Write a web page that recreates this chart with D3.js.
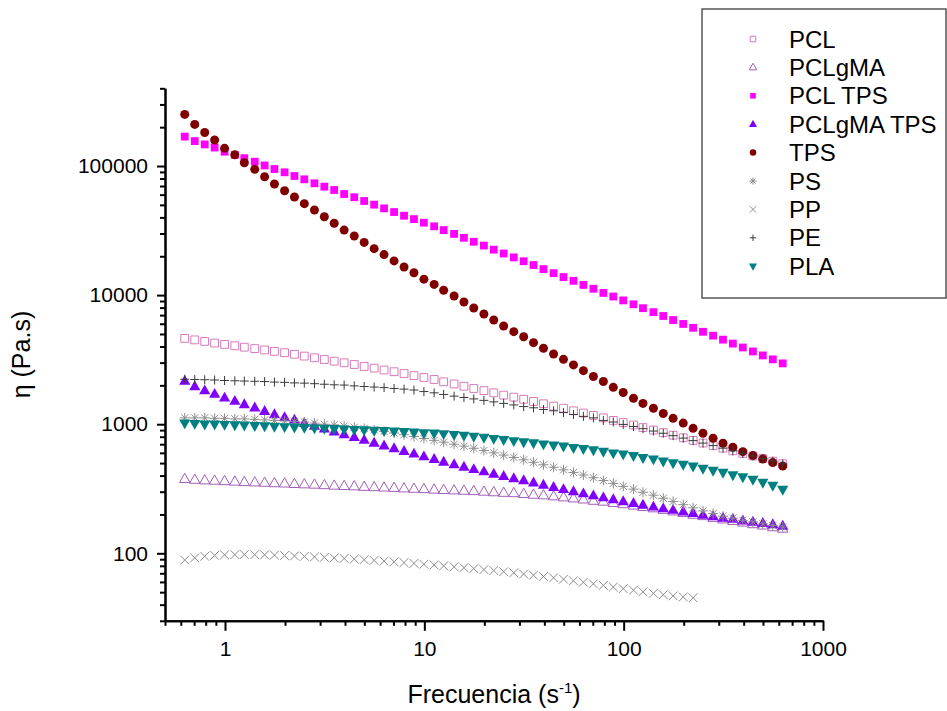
<!DOCTYPE html>
<html>
<head>
<meta charset="utf-8">
<script src="https://cdn.jsdelivr.net/npm/d3@7"></script>
<style>
  body { margin: 0; background: #fff; }
  svg { display: block; font-family: Arial, "Liberation Sans", sans-serif; }
</style>
</head>
<body>
<svg id="chart"></svg>
<script>
// frequency (s^-1), 20 points per decade
const freq = [0.628, 0.705, 0.791, 0.887, 0.995, 1.12, 1.25, 1.41, 1.58, 1.77,
  1.99, 2.23, 2.50, 2.81, 3.15, 3.53, 3.96, 4.45, 4.99, 5.60,
  6.28, 7.05, 7.91, 8.87, 9.95, 11.2, 12.5, 14.1, 15.8, 17.7,
  19.9, 22.3, 25.0, 28.1, 31.5, 35.3, 39.6, 44.5, 49.9, 56.0,
  62.8, 70.5, 79.1, 88.7, 99.5, 112, 125, 141, 158, 177,
  199, 223, 250, 281, 315, 353, 396, 445, 499, 560, 628];

// viscosity (Pa.s)
const pcl = [4620, 4500, 4380, 4250, 4150, 4050, 3950, 3850, 3760, 3670,
  3580, 3480, 3370, 3270, 3170, 3080, 2990, 2900, 2800, 2720,
  2630, 2550, 2470, 2380, 2300, 2220, 2130, 2050, 1970, 1890,
  1820, 1750, 1680, 1620, 1560, 1500, 1440, 1380, 1330, 1270,
  1220, 1170, 1120, 1070, 1030, 986, 942, 901, 860, 822,
  785, 749, 715, 682, 652, 622, 594, 567, 542, 517, 494];
const pclgma = [376, 371, 367, 365, 362, 359, 356, 354, 352, 349,
  347, 344, 342, 340, 337, 334, 332, 330, 327, 325,
  323, 321, 318, 316, 314, 311, 309, 307, 305, 303,
  300, 297, 294, 292, 288, 284, 281, 276, 271, 266,
  261, 255, 251, 245, 240, 234, 228, 223, 217, 211,
  205, 199, 194, 188, 183, 178, 173, 168, 164, 159, 155];
const pclTps = [169000, 156000, 147000, 139000, 129000, 122000, 115000, 108000, 101000, 94800,
  89400, 83700, 78900, 73500, 69200, 65200, 60700, 57300, 53600, 50200,
  47000, 44000, 41200, 38800, 36400, 34100, 31900, 29800, 27800, 25900,
  24200, 22500, 21000, 19600, 18300, 17100, 15900, 14800, 13800, 12900,
  12000, 11200, 10400, 9750, 9100, 8490, 7920, 7380, 6890, 6410,
  5980, 5580, 5200, 4850, 4520, 4210, 3930, 3660, 3410, 3180, 2960];
const pclgmaTps = [2160, 1960, 1820, 1710, 1600, 1510, 1420, 1340, 1260, 1190,
  1130, 1080, 1020, 970, 921, 875, 832, 792, 754, 716,
  681, 649, 618, 589, 561, 535, 509, 488, 466, 447,
  429, 411, 395, 380, 366, 352, 338, 325, 313, 301,
  290, 280, 270, 261, 252, 244, 237, 229, 222, 216,
  210, 204, 198, 193, 188, 184, 179, 175, 171, 167, 163];
const tps = [251000, 210000, 182000, 159000, 137000, 122000, 106000, 94300, 82600, 72600,
  64400, 57500, 51100, 45600, 40500, 36000, 31900, 28700, 25600, 22900,
  20600, 18400, 16500, 14900, 13300, 12100, 10900, 9840, 8850, 7950,
  7140, 6420, 5770, 5210, 4760, 4280, 3880, 3500, 3180, 2880,
  2600, 2340, 2140, 1930, 1760, 1590, 1450, 1330, 1210, 1110,
  1020, 929, 851, 778, 712, 663, 613, 571, 538, 504, 475];
const ps = [1120, 1120, 1120, 1110, 1110, 1100, 1100, 1090, 1080, 1070,
  1060, 1050, 1040, 1020, 1000, 988, 968, 948, 926, 903,
  880, 855, 829, 803, 776, 750, 726, 700, 676, 651,
  626, 600, 576, 553, 530, 507, 485, 464, 443, 423,
  404, 385, 366, 348, 330, 314, 297, 282, 267, 252,
  238, 225, 213, 203, 194, 187, 180, 175, 169, 164, 160];
const pp = [88.7, 92.2, 94.8, 96.4, 97.2, 97.7, 97.9, 97.7, 97.3, 96.8,
  96.1, 95.4, 94.6, 93.8, 93.0, 92.1, 91.2, 90.2, 89.2, 88.1,
  87.0, 85.9, 84.7, 83.5, 82.3, 81.2, 79.9, 78.6, 77.3, 76.1,
  74.8, 73.5, 72.0, 70.6, 69.1, 67.7, 66.1, 64.6, 63.0, 61.3,
  59.7, 58.0, 56.4, 54.8, 53.2, 51.8, 50.3, 49.0, 47.8, 46.8,
  45.9, 45.2];
const pe = [2230, 2220, 2210, 2200, 2180, 2170, 2160, 2150, 2140, 2120,
  2110, 2090, 2080, 2060, 2040, 2020, 2010, 1980, 1960, 1940,
  1920, 1890, 1870, 1840, 1790, 1750, 1700, 1650, 1610, 1570,
  1530, 1490, 1450, 1410, 1370, 1340, 1300, 1270, 1230, 1190,
  1150, 1120, 1070, 1040, 996, 960, 923, 885, 851, 815,
  780, 746, 714, 683, 652, 622, 594, 567, 542, 517, 494];
const pla = [1020, 1010, 1000, 998, 993, 986, 980, 973, 968, 961,
  954, 948, 941, 935, 928, 921, 915, 908, 902, 895,
  889, 881, 873, 865, 857, 850, 841, 830, 817, 803,
  789, 773, 757, 743, 728, 715, 701, 687, 674, 656,
  645, 631, 615, 597, 586, 569, 549, 536, 517, 501,
  488, 472, 454, 438, 423, 404, 390, 373, 353, 335, 312];

const seriesNames = ["PCL", "PCLgMA", "PCL TPS", "PCLgMA TPS", "TPS", "PS", "PP", "PE", "PLA"];
const seriesValues = [pcl, pclgma, pclTps, pclgmaTps, tps, ps, pp, pe, pla];
const xTicksMajor = [1, 10, 100, 1000];
const yTicksMajor = [100, 1000, 10000, 100000];

// marker shapes, size = half width in px
const shapes = {
  square: { draw(c, r) { c.moveTo(-r, -r); c.lineTo(r, -r); c.lineTo(r, r); c.lineTo(-r, r); c.closePath(); } },
  triUp: { draw(c, r) { c.moveTo(0, -r); c.lineTo(0.9 * r, 0.6 * r); c.lineTo(-0.9 * r, 0.6 * r); c.closePath(); } },
  triDown: { draw(c, r) { c.moveTo(0, r); c.lineTo(0.9 * r, -0.6 * r); c.lineTo(-0.9 * r, -0.6 * r); c.closePath(); } },
  circle: { draw(c, r) { c.moveTo(r, 0); c.arc(0, 0, r, 0, 2 * Math.PI); } },
  star: { draw(c, r) {
    c.moveTo(-r, 0); c.lineTo(r, 0);
    c.moveTo(0, -r); c.lineTo(0, r);
    const d = r * 0.72;
    c.moveTo(-d, -d); c.lineTo(d, d);
    c.moveTo(-d, d); c.lineTo(d, -d);
  } },
  times: { draw(c, r) { c.moveTo(-r, -r); c.lineTo(r, r); c.moveTo(-r, r); c.lineTo(r, -r); } },
  plus: { draw(c, r) { c.moveTo(-r, 0); c.lineTo(r, 0); c.moveTo(0, -r); c.lineTo(0, r); } }
};

const styles = [
  { shape: "square", r: 3.9, fill: "none", stroke: "#d67ab9" },
  { shape: "triUp", r: 5.8, fill: "none", stroke: "#a25fb8" },
  { shape: "square", r: 3.9, fill: "#ff00ff", stroke: "none" },
  { shape: "triUp", r: 6.2, fill: "#8000ff", stroke: "none" },
  { shape: "circle", r: 4.5, fill: "#800000", stroke: "none" },
  { shape: "star", r: 5, fill: "none", stroke: "#8c8c8c" },
  { shape: "times", r: 4.4, fill: "none", stroke: "#8c8c8c" },
  { shape: "plus", r: 4.5, fill: "none", stroke: "#3a3a3a" },
  { shape: "triDown", r: 6.2, fill: "#008080", stroke: "none" }
];

const W = 947, H = 711;
const svg = d3.select("#chart").attr("width", W).attr("height", H);
svg.append("rect").attr("width", W).attr("height", H).attr("fill", "#fff");

const x = d3.scaleLog().domain([0.5, 1000]).range([165, 823]);
const y = d3.scaleLog().domain([30, 400000]).range([620.8, 88.3]);
const x0 = x.range()[0], yBottom = y.range()[0];

// axes
const xMinor = x.ticks().filter(d => !xTicksMajor.includes(d));
const yMinor = y.ticks().filter(d => !yTicksMajor.includes(d));

function styleAxis(g, w) {
  g.select(".domain").attr("stroke", "#000").attr("stroke-width", 2);
  g.selectAll(".tick line").attr("stroke", "#000").attr("stroke-width", w);
  g.selectAll(".tick text").attr("fill", "#000").style("font-size", "21px")
    .style("font-family", "Arial, 'Liberation Sans', sans-serif");
}

svg.append("g").attr("transform", `translate(0,${yBottom})`)
  .call(d3.axisBottom(x).tickValues(xMinor).tickSize(5).tickSizeOuter(0).tickFormat(""))
  .call(g => styleAxis(g, 2));
svg.append("g").attr("transform", `translate(0,${yBottom})`)
  .call(d3.axisBottom(x).tickValues(xTicksMajor).tickSize(10).tickSizeOuter(0)
    .tickPadding(10).tickFormat(d3.format("d")))
  .call(g => styleAxis(g, 2));

svg.append("g").attr("transform", `translate(${x0},0)`)
  .call(d3.axisLeft(y).tickValues(yMinor).tickSize(5).tickSizeOuter(0).tickFormat(""))
  .call(g => styleAxis(g, 2));
svg.append("g").attr("transform", `translate(${x0},0)`)
  .call(d3.axisLeft(y).tickValues(yTicksMajor).tickSize(8).tickSizeOuter(0)
    .tickPadding(9).tickFormat(d3.format("d")))
  .call(g => styleAxis(g, 2));

// axis titles
const xTitle = svg.append("text")
  .attr("x", (x.range()[0] + x.range()[1]) / 2).attr("y", 703)
  .attr("text-anchor", "middle").style("font-size", "25px").attr("fill", "#000");
xTitle.append("tspan").text("Frecuencia (s");
xTitle.append("tspan").attr("dy", -10).style("font-size", "15px").text("-1");
xTitle.append("tspan").attr("dy", 10).text(")");

svg.append("text")
  .attr("transform", `translate(30,${(y.range()[0] + y.range()[1]) / 2}) rotate(-90)`)
  .attr("text-anchor", "middle").style("font-size", "25px").attr("fill", "#000")
  .text("η (Pa.s)");

// data points
const sym = d3.symbol();
seriesValues.forEach((vals, k) => {
  const st = styles[k];
  const pts = vals.map((v, i) => [freq[i], v]);
  svg.append("g").attr("class", "series")
    .selectAll("path").data(pts).join("path")
    .attr("transform", d => `translate(${x(d[0])},${y(d[1])})`)
    .attr("d", sym.type(shapes[st.shape]).size(st.r)())
    .attr("fill", st.fill)
    .attr("stroke", st.stroke)
    .attr("stroke-width", 1);
});

// legend
const leg = svg.append("g");
leg.append("rect").attr("x", 702).attr("y", 9).attr("width", 244).attr("height", 289)
  .attr("fill", "#fff").attr("stroke", "#555").attr("stroke-width", 1.5);
seriesNames.forEach((name, k) => {
  const st = styles[k];
  const ly = 39 + k * 28.4;
  leg.append("path")
    .attr("transform", `translate(753,${ly})`)
    .attr("d", sym.type(shapes[st.shape]).size(st.r * 0.72)())
    .attr("fill", st.fill).attr("stroke", st.stroke).attr("stroke-width", 1);
  leg.append("text").attr("x", 789).attr("y", ly).attr("dy", "0.36em")
    .style("font-size", "24px").attr("fill", "#000").text(name);
});
</script>
</body>
</html>
